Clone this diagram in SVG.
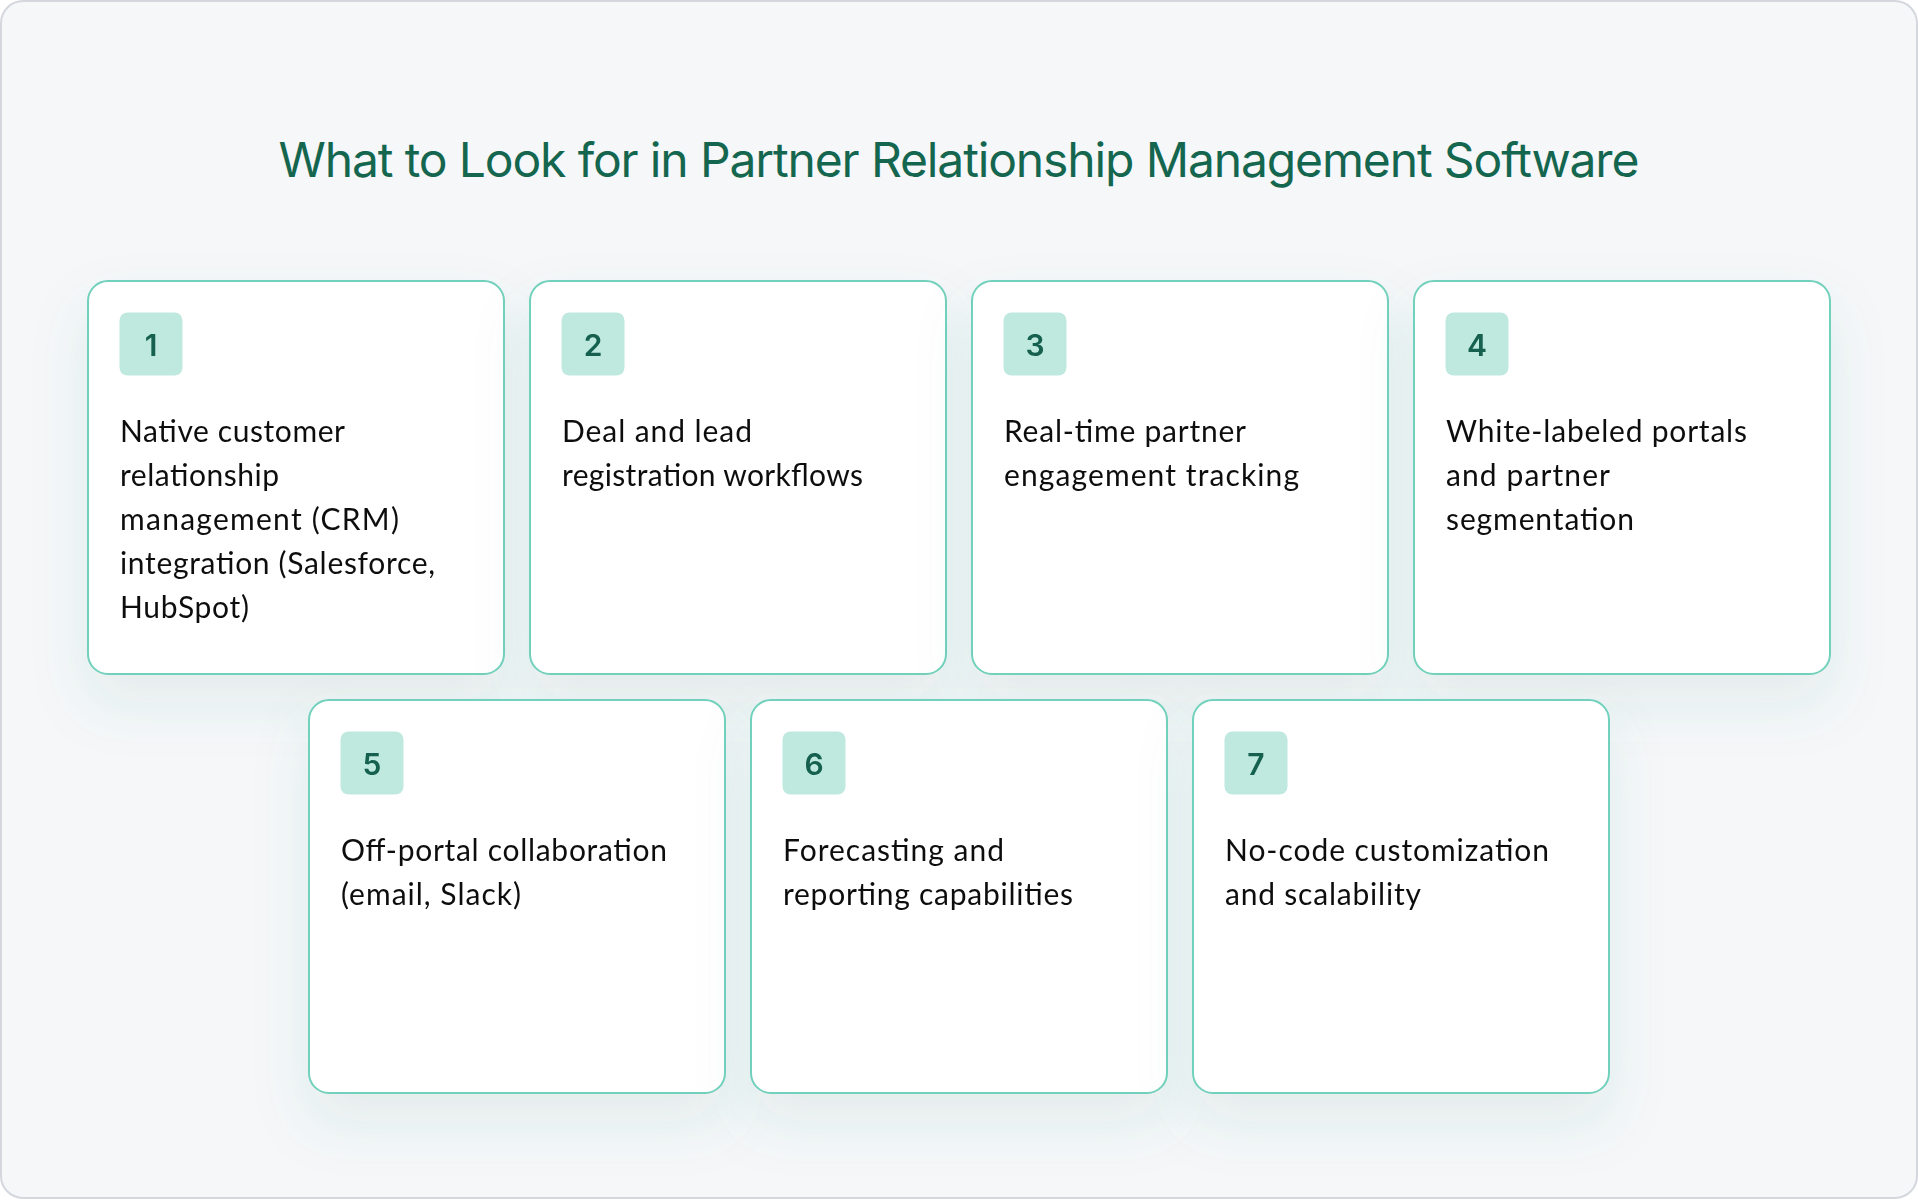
<svg xmlns="http://www.w3.org/2000/svg" width="1918" height="1200" viewBox="0 0 1918 1200">
<defs>
<filter id="shadow" x="-30%" y="-30%" width="160%" height="180%">
<feDropShadow dx="0" dy="28" stdDeviation="28" flood-color="#3c8c76" flood-opacity="0.10"/>
</filter>
<style>
.frame{fill:#f6f7f9;stroke:#d5d7de;stroke-width:2}
.card{fill:#ffffff;stroke:#72d1bc;stroke-width:2}
.badge{fill:#bfe9df}
.num{font-family:"Inter","Liberation Sans",sans-serif;font-size:30px;font-weight:600;fill:#16614f;text-anchor:middle}
.body{font-family:"Lato","Liberation Sans",sans-serif;font-size:30px;font-weight:400;fill:#111111}
.title{font-family:"Inter","Liberation Sans",sans-serif;font-size:48px;fill:#14664f;text-anchor:middle}
</style>
</defs>
<rect class="frame" x="1" y="1" width="1916" height="1197" rx="22"/>
<text class="title" x="959" y="177" textLength="1361">What to Look for in Partner Relationship Management Software</text>

<g id="connectors"></g>

<g id="card1" filter="url(#shadow)">
<rect class="card" x="88" y="281" width="416" height="393" rx="20"/>
<rect class="badge" x="119.5" y="312.5" width="63" height="63" rx="8"/>
<text class="num" x="151" y="355.5">1</text>
<text class="body" x="120" y="442" textLength="225">Native customer</text>
<text class="body" x="120" y="486" textLength="159">relationship</text>
<text class="body" x="120" y="530" textLength="279">management (CRM)</text>
<text class="body" x="120" y="574" textLength="315">integration (Salesforce,</text>
<text class="body" x="120" y="618" textLength="129">HubSpot)</text>
</g>

<g id="card2" filter="url(#shadow)">
<rect class="card" x="530" y="281" width="416" height="393" rx="20"/>
<rect class="badge" x="561.5" y="312.5" width="63" height="63" rx="8"/>
<text class="num" x="593" y="355.5">2</text>
<text class="body" x="562" y="442" textLength="190">Deal and lead</text>
<text class="body" x="562" y="486" textLength="301">registration workflows</text>
</g>

<g id="card3" filter="url(#shadow)">
<rect class="card" x="972" y="281" width="416" height="393" rx="20"/>
<rect class="badge" x="1003.5" y="312.5" width="63" height="63" rx="8"/>
<text class="num" x="1035" y="355.5">3</text>
<text class="body" x="1004" y="442" textLength="242">Real-time partner</text>
<text class="body" x="1004" y="486" textLength="295">engagement tracking</text>
</g>

<g id="card4" filter="url(#shadow)">
<rect class="card" x="1414" y="281" width="416" height="393" rx="20"/>
<rect class="badge" x="1445.5" y="312.5" width="63" height="63" rx="8"/>
<text class="num" x="1477" y="355.5">4</text>
<text class="body" x="1446" y="442" textLength="301">White-labeled portals</text>
<text class="body" x="1446" y="486" textLength="164">and partner</text>
<text class="body" x="1446" y="530" textLength="188">segmentation</text>
</g>

<g id="card5" filter="url(#shadow)">
<rect class="card" x="309" y="700" width="416" height="393" rx="20"/>
<rect class="badge" x="340.5" y="731.5" width="63" height="63" rx="8"/>
<text class="num" x="372" y="774.5">5</text>
<text class="body" x="341" y="861" textLength="326">Off-portal collaboration</text>
<text class="body" x="341" y="905" textLength="180">(email, Slack)</text>
</g>

<g id="card6" filter="url(#shadow)">
<rect class="card" x="751" y="700" width="416" height="393" rx="20"/>
<rect class="badge" x="782.5" y="731.5" width="63" height="63" rx="8"/>
<text class="num" x="814" y="774.5">6</text>
<text class="body" x="783" y="861" textLength="221">Forecasting and</text>
<text class="body" x="783" y="905" textLength="290">reporting capabilities</text>
</g>

<g id="card7" filter="url(#shadow)">
<rect class="card" x="1193" y="700" width="416" height="393" rx="20"/>
<rect class="badge" x="1224.5" y="731.5" width="63" height="63" rx="8"/>
<text class="num" x="1256" y="774.5">7</text>
<text class="body" x="1225" y="861" textLength="324">No-code customization</text>
<text class="body" x="1225" y="905" textLength="196">and scalability</text>
</g>
</svg>
